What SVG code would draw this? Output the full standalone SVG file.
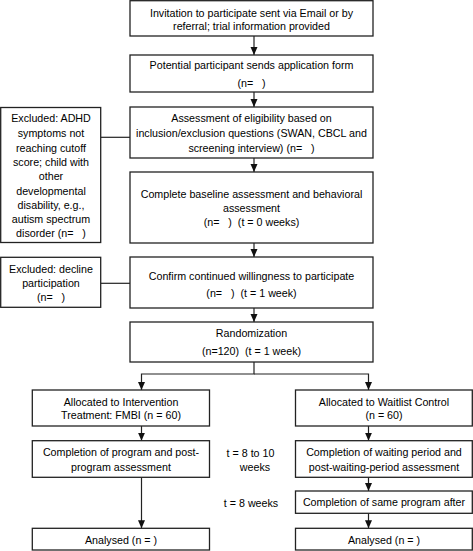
<svg xmlns="http://www.w3.org/2000/svg" width="473" height="551" viewBox="0 0 473 551">
<style>
rect.b{fill:#fff;stroke:#222;stroke-width:1.3}
text{font-family:"Liberation Sans",Arial,sans-serif;font-size:10.7px;fill:#000;text-anchor:middle;white-space:pre}
.c path,.c line{stroke:#222;stroke-width:1.2;fill:none}
</style>
<defs>
<marker id="ah" markerWidth="8" markerHeight="8" viewBox="0 0 8 8" refX="8" refY="4" orient="auto" markerUnits="userSpaceOnUse">
<path d="M0,0.5 L8,4 L0,7.5 Z" fill="#111"/>
</marker>
</defs>
<rect width="473" height="551" fill="#fff"/>
<g class="c" id="connectors">
<line x1="254" y1="36" x2="254" y2="55" marker-end="url(#ah)"/>
<line x1="254" y1="92" x2="254" y2="107" marker-end="url(#ah)"/>
<line x1="254" y1="158" x2="254" y2="172" marker-end="url(#ah)"/>
<line x1="254" y1="243" x2="254" y2="257" marker-end="url(#ah)"/>
<line x1="254" y1="308" x2="254" y2="322" marker-end="url(#ah)"/>
<line x1="101" y1="137.3" x2="130" y2="137.3"/>
<line x1="101" y1="283.3" x2="130" y2="283.3"/>
<path d="M254,362 V374 H141.5 V390" marker-end="url(#ah)"/>
<path d="M254,374 H368.5 V390" marker-end="url(#ah)"/>
<line x1="141.5" y1="426" x2="141.5" y2="440.7" marker-end="url(#ah)"/>
<line x1="368.5" y1="426" x2="368.5" y2="440.7" marker-end="url(#ah)"/>
<line x1="141.5" y1="477.3" x2="141.5" y2="528.3" marker-end="url(#ah)"/>
<line x1="368.5" y1="477.3" x2="368.5" y2="491" marker-end="url(#ah)"/>
<line x1="368.5" y1="513.3" x2="368.5" y2="528.3" marker-end="url(#ah)"/>
</g>
<g id="invitation">
<rect class="b" x="130" y="0.7" width="243" height="35.3"/>
<text x="251.5" y="16.8">Invitation to participate sent via Email or by</text>
<text x="251.5" y="29.8">referral; trial information provided</text>
</g>
<g id="application">
<rect class="b" x="130" y="55" width="243" height="37"/>
<text x="251.5" y="68.8">Potential participant sends application form</text>
<text x="251.5" y="87" xml:space="preserve">(n=   )</text>
</g>
<g id="eligibility">
<rect class="b" x="130" y="107" width="243" height="51"/>
<text x="251.5" y="122">Assessment of eligibility based on</text>
<text x="251.5" y="137">inclusion/exclusion questions (SWAN, CBCL and</text>
<text x="251.5" y="151.5" xml:space="preserve">screening interview) (n=   )</text>
</g>
<g id="excluded1">
<rect class="b" x="0.7" y="107.5" width="100" height="135"/>
<text x="51" y="122">Excluded: ADHD</text>
<text x="51" y="137">symptoms not</text>
<text x="51" y="151.5">reaching cutoff</text>
<text x="51" y="166">score; child with</text>
<text x="51" y="180">other</text>
<text x="51" y="194.5">developmental</text>
<text x="51" y="208.5">disability, e.g.,</text>
<text x="51" y="223">autism spectrum</text>
<text x="51" y="236.5" xml:space="preserve">disorder (n=   )</text>
</g>
<g id="baseline">
<rect class="b" x="130" y="172" width="243" height="71"/>
<text x="251.5" y="198">Complete baseline assessment and behavioral</text>
<text x="251.5" y="212">assessment</text>
<text x="251.5" y="226" xml:space="preserve">(n=   )  (t = 0 weeks)</text>
</g>
<g id="confirm">
<rect class="b" x="130" y="257" width="243" height="51"/>
<text x="251.5" y="279.8">Confirm continued willingness to participate</text>
<text x="251.5" y="297" xml:space="preserve">(n=   )  (t = 1 week)</text>
</g>
<g id="excluded2">
<rect class="b" x="0.7" y="257.3" width="100" height="50"/>
<text x="51" y="273">Excluded: decline</text>
<text x="51" y="287">participation</text>
<text x="51" y="300.5" xml:space="preserve">(n=   )</text>
</g>
<g id="randomization">
<rect class="b" x="130" y="322" width="243" height="40"/>
<text x="251.5" y="337">Randomization</text>
<text x="251.5" y="354.8" xml:space="preserve">(n=120)  (t = 1 week)</text>
</g>
<g id="alloc-intervention">
<rect class="b" x="32.3" y="390" width="177.2" height="36"/>
<text x="121" y="405.8">Allocated to Intervention</text>
<text x="121" y="419.2">Treatment: FMBI (n = 60)</text>
</g>
<g id="alloc-waitlist">
<rect class="b" x="295.5" y="390" width="176.8" height="36"/>
<text x="384" y="405.8">Allocated to Waitlist Control</text>
<text x="384" y="419.2">(n = 60)</text>
</g>
<g id="completion-program">
<rect class="b" x="32.3" y="440.7" width="177.2" height="36.6"/>
<text x="121" y="455.8">Completion of program and post-</text>
<text x="121" y="470.5">program assessment</text>
</g>
<g id="completion-waiting">
<rect class="b" x="295.5" y="440.7" width="176.8" height="36.6"/>
<text x="384" y="456">Completion of waiting period and</text>
<text x="384" y="470.5">post-waiting-period assessment</text>
</g>
<g id="time-labels">
<text x="250.5" y="457">t = 8 to 10</text>
<text x="255" y="470.5">weeks</text>
<text x="251" y="507">t = 8 weeks</text>
</g>
<g id="completion-same">
<rect class="b" x="295.5" y="491" width="176.8" height="22.3"/>
<text x="384" y="506">Completion of same program after</text>
</g>
<g id="analysed-left">
<rect class="b" x="32.3" y="528.3" width="177.2" height="21.7"/>
<text x="121" y="544.4">Analysed (n = )</text>
</g>
<g id="analysed-right">
<rect class="b" x="295.5" y="528.3" width="176.8" height="21.7"/>
<text x="384" y="544.4">Analysed (n = )</text>
</g>
</svg>
